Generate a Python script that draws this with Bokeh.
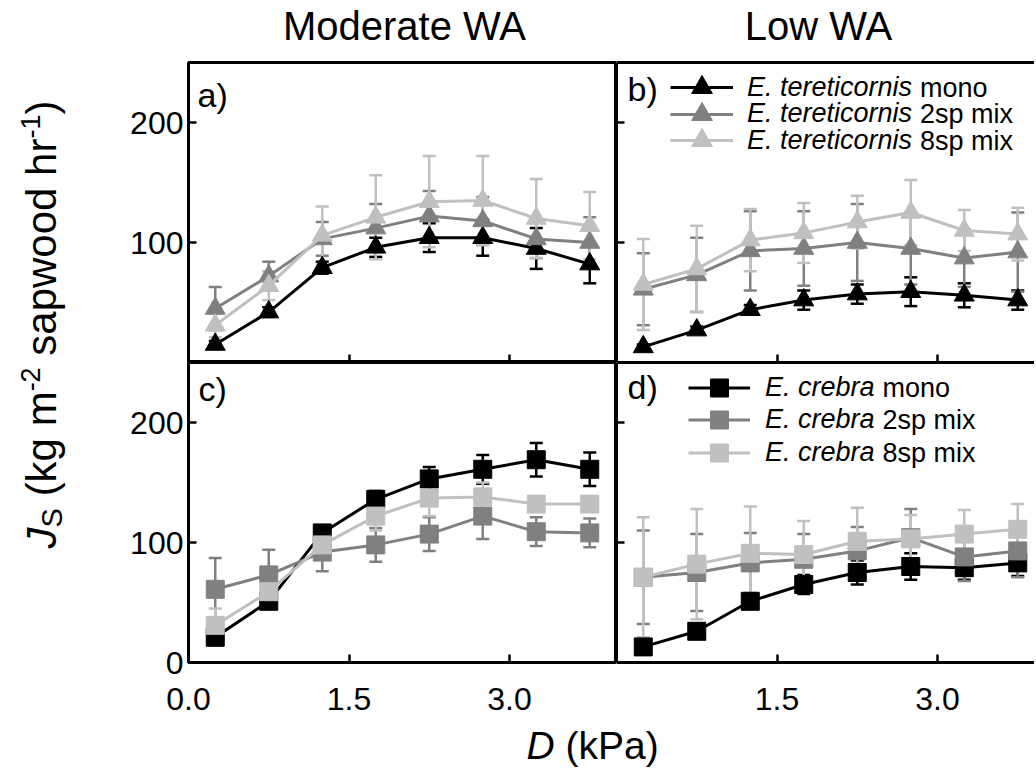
import math
from bokeh.plotting import figure
from bokeh.models import (Range1d, FixedTicker, Whisker, TeeHead, ColumnDataSource,
                          Legend, LegendItem, Label, PrintfTickFormatter, Spacer, LinearAxis)
from bokeh.layouts import row, column
from bokeh.core.properties import value
from bokeh.embed import file_html
from bokeh.resources import INLINE

FONT = "Liberation Sans"

# ---------------- data ----------------
D = [0.25, 0.75, 1.25, 1.75, 2.25, 2.75, 3.25, 3.75]

# a) Moderate WA, E. tereticornis
a_mono = [15, 42, 79, 96, 104, 104, 95, 82]
a_mono_se = [3, 4, 5, 8, 12, 15, 17, 16]
a_2sp = [45, 72, 103, 112, 122, 118, 103, 100]
a_2sp_se = [18, 12, 14, 20, 21, 20, 16, 21]
a_8sp = [31, 64, 106, 121, 134, 135, 120, 114]
a_8sp_se = [10, 12, 24, 35, 38, 37, 33, 28]

# b) Low WA, E. tereticornis
b_mono = [13, 27, 44, 52, 57, 59, 56, 52]
b_mono_se = [2, 3, 4, 8, 8, 12, 10, 8]
b_2sp = [61, 73, 93, 95, 100, 95, 87, 92]
b_2sp_se = [30, 31, 33, 31, 32, 30, 24, 33]
b_8sp = [65, 78, 102, 108, 117, 125, 110, 107]
b_8sp_se = [38, 36, 26, 25, 22, 27, 17, 22]

# c) Moderate WA, E. crebra
c_mono = [21, 51, 108, 136, 153, 161, 169, 161]
c_mono_se = [5, 3, 4, 7, 10, 12, 14, 14]
c_2sp = [61, 73, 92, 98, 107, 122, 109, 108]
c_2sp_se = [26, 21, 16, 14, 14, 19, 12, 12]
c_8sp = [31, 59, 98, 122, 137, 138, 132, 132]
c_8sp_se = [14, 8, 5, 12, 15, 12, 6, 5]

# d) Low WA, E. crebra
d_mono = [13, 26, 51, 65, 75, 80, 79, 83]
d_mono_se = [3, 4, 5, 8, 10, 11, 10, 11]
d_2sp = [71, 75, 83, 86, 93, 104, 88, 93]
d_2sp_se = [39, 32, 25, 21, 20, 24, 20, 22]
d_8sp = [71, 82, 91, 90, 101, 103, 107, 111]
d_8sp_se = [50, 46, 39, 28, 28, 20, 20, 21]

series_suffix = ["mono", "2sp mix", "8sp mix"]
colors = ["#000000", "#808080", "#c0c0c0"]
column_titles = ["Moderate WA", "Low WA"]

y_ticks_top = [100, 200]
y_ticks_bottom = [0, 100, 200]
x_ticks_left = [0.0, 1.5, 3.0]
x_ticks_right = [1.5, 3.0]

# ---------------- helpers ----------------
def make_panel(width, height, x_end, left, top, bottom, outline):
    p = figure(width=width, height=height, x_range=Range1d(0, x_end), y_range=Range1d(0, 250),
               output_backend="svg", toolbar_location=None,
               min_border=0, min_border_left=left, min_border_right=0,
               min_border_top=top, min_border_bottom=bottom)
    p.grid.visible = False
    p.background_fill_color = "white"
    p.border_fill_color = "white"
    if outline:
        p.outline_line_color = "black"
        p.outline_line_width = 3
    else:
        p.outline_line_color = None
    return p


def make_strip(width, height):
    s = figure(width=width, height=height, x_range=Range1d(0, width), y_range=Range1d(0, height),
               x_axis_type=None, y_axis_type=None, output_backend="svg",
               toolbar_location=None, min_border=0)
    s.grid.visible = False
    s.outline_line_color = None
    s.border_fill_color = "white"
    return s


def style_axis(ax, major, minor, line, standoff=5):
    ax.ticker = FixedTicker(ticks=major, minor_ticks=minor)
    ax.major_tick_in = 8
    ax.major_tick_out = 0
    ax.minor_tick_in = 8
    ax.minor_tick_out = 0
    ax.major_tick_line_width = 2.5
    ax.minor_tick_line_width = 2.5
    ax.major_tick_line_color = "black"
    ax.minor_tick_line_color = "black"
    ax.axis_line_width = 3
    ax.axis_line_color = "black" if line else None
    ax.major_label_text_font = FONT
    ax.major_label_text_font_size = "32px"
    ax.major_label_text_color = "black"
    ax.major_label_standoff = standoff


def add_series(p, y, se, color, marker, size):
    src = ColumnDataSource(dict(x=D, y=y,
                                upper=[a + b for a, b in zip(y, se)],
                                lower=[a - b for a, b in zip(y, se)]))
    w = Whisker(source=src, base="x", upper="upper", lower="lower", dimension="height",
                line_color=color, line_width=2.5, level="underlay",
                upper_head=TeeHead(size=13, line_color=color, line_width=2.5),
                lower_head=TeeHead(size=13, line_color=color, line_width=2.5))
    p.add_layout(w)
    lr = p.line("x", "y", source=src, line_color=color, line_width=3)
    sr = p.scatter("x", "y", source=src, marker=marker, size=size,
                   fill_color=color, line_color=color)
    return lr, sr


def add_text(p, text, xo, yo, size, style="normal", align="left"):
    p.add_layout(Label(x=0, y=0, x_offset=xo, y_offset=yo, text=text,
                       text_font=FONT, text_font_size=size, text_font_style=style,
                       text_color="black", text_align=align, text_baseline="middle"))


def add_legend(p, italic, rends, loc_x, rows, gw, gh, standoff, italic_w):
    for (lr, sr), suf, ry in zip(rends, series_suffix, rows):
        leg = Legend(items=[LegendItem(label=value(italic), renderers=[lr, sr])],
                     location=(loc_x, ry - gh / 2), glyph_width=gw, glyph_height=gh,
                     padding=0, margin=0, spacing=0, label_standoff=standoff,
                     border_line_color=None, background_fill_alpha=0,
                     label_text_font=FONT, label_text_font_style="italic",
                     label_text_font_size="27px", label_text_color="black")
        p.add_layout(leg)
        add_text(p, suf, loc_x + gw + standoff + italic_w + 7.5, ry, "27px")


# ---------------- geometry ----------------
YS_W = 108
LEFT_W, RIGHT_W = 508, 418
T_H = 60            # title strip
TOP_H, BOT_H = 302, 361
XS_H = 52
XSCALE = 4.0 / 428.0
right_end = RIGHT_W * XSCALE

# ---------------- panels ----------------
pa = make_panel(LEFT_W, TOP_H, 4.0, 80, 2, 0, True)
pb = make_panel(RIGHT_W, TOP_H, right_end, 0, 2, 0, False)
pc = make_panel(LEFT_W, BOT_H, 4.0, 80, 0, 61, True)
pd = make_panel(RIGHT_W, BOT_H, right_end, 0, 0, 61, False)

style_axis(pa.yaxis[0], y_ticks_top, [], False)
style_axis(pa.xaxis[0], [], x_ticks_right, False)
style_axis(pc.yaxis[0], y_ticks_bottom, [], False)
style_axis(pc.xaxis[0], x_ticks_left, [], False, standoff=25)
pc.xaxis[0].formatter = PrintfTickFormatter(format="%.1f")

style_axis(pb.yaxis[0], [], y_ticks_top, True)
style_axis(pb.xaxis[0], [], x_ticks_right, True)
style_axis(pd.yaxis[0], [], y_ticks_top, True)
style_axis(pd.xaxis[0], x_ticks_right, [], True, standoff=25)
pd.xaxis[0].formatter = PrintfTickFormatter(format="%.1f")

for p in (pb, pd):
    top_ax = LinearAxis()
    style_axis(top_ax, [], [], True)
    p.add_layout(top_ax, "above")

tri, sq = "triangle", "square"
ra = [add_series(pa, y, s, c, tri, 20) for y, s, c in
      zip([a_mono, a_2sp, a_8sp], [a_mono_se, a_2sp_se, a_8sp_se], colors)]
rb = [add_series(pb, y, s, c, tri, 20) for y, s, c in
      zip([b_mono, b_2sp, b_8sp], [b_mono_se, b_2sp_se, b_8sp_se], colors)]
rc = [add_series(pc, y, s, c, sq, 18) for y, s, c in
      zip([c_mono, c_2sp, c_8sp], [c_mono_se, c_2sp_se, c_8sp_se], colors)]
rd = [add_series(pd, y, s, c, sq, 18) for y, s, c in
      zip([d_mono, d_2sp, d_8sp], [d_mono_se, d_2sp_se, d_8sp_se], colors)]

add_legend(pb, "E. tereticornis", rb, 54, [275, 248.5, 222], 63, 52, 14, 6.113 * 27)
add_legend(pd, "E. crebra", rd, 72, [275, 242.5, 210], 62, 45, 15, 4.057 * 27)

add_text(pa, "a)", 9, 268, "34px")
add_text(pb, "b)", 11, 274, "34px")
add_text(pc, "c)", 10, 274, "34px")
add_text(pd, "d)", 11, 276, "34px")

# ---------------- title strip ----------------
ts = make_strip(LEFT_W + RIGHT_W, T_H)
for txt, cx in zip(column_titles, [404 - YS_W, 818 - YS_W]):
    ts.add_layout(Label(x=cx, y=T_H - 25, text=txt, text_font=FONT, text_font_size="40px",
                        text_color="black", text_align="center", text_baseline="middle"))

# ---------------- y label strip ----------------
YS_H = TOP_H + BOT_H
ys = make_strip(YS_W, YS_H)
F = 42
base_x = 56
# (text, font px, style, baseline x, advance)
segs = [("J", F, "italic", base_x, 0.5 * F),
        ("S", 29, "normal", base_x + 6, 0.667 * 29),
        (None, F, "", base_x, 0.278 * F),
        ("(kg m", F, "normal", base_x, 2.5 * F),
        ("-2", 27, "normal", base_x - 17, 0.889 * 27),
        (None, F, "", base_x, 0.278 * F),
        ("sapwood hr", F, "normal", base_x, 5.169 * F),
        ("-1", 27, "normal", base_x - 17, 0.889 * 27),
        (")", F, "normal", base_x, 0.333 * F)]
total = sum(s[4] for s in segs)
page_bottom = T_H + YS_H
cur = page_bottom - (324 + total / 2)
for txt, fs, st, bx, w in segs:
    if txt:
        ys.add_layout(Label(x=bx - 0.35 * fs, y=cur, text=txt, angle=math.pi / 2,
                            text_font=FONT, text_font_size=f"{fs}px", text_font_style=st,
                            text_color="black", text_align="left", text_baseline="middle"))
    cur += w

# ---------------- x label strip ----------------
xs = make_strip(LEFT_W + RIGHT_W, XS_H)
FX = 39
strip_top = T_H + YS_H
mid_y = (strip_top + XS_H) - (759 - 0.35 * FX)
lab_start = 526 - YS_W
xs.add_layout(Label(x=lab_start, y=mid_y, text="D", text_font=FONT, text_font_size=f"{FX}px",
                    text_font_style="italic", text_color="black", text_baseline="middle"))
xs.add_layout(Label(x=lab_start + 1.0 * FX, y=mid_y, text="(kPa)", text_font=FONT,
                    text_font_size=f"{FX}px", text_color="black", text_baseline="middle"))

layout = column(row(Spacer(width=YS_W, height=T_H), ts),
                row(ys, column(row(pa, pb), row(pc, pd))),
                row(Spacer(width=YS_W, height=XS_H), xs))

open("out.html", "w").write(file_html(layout, INLINE))
